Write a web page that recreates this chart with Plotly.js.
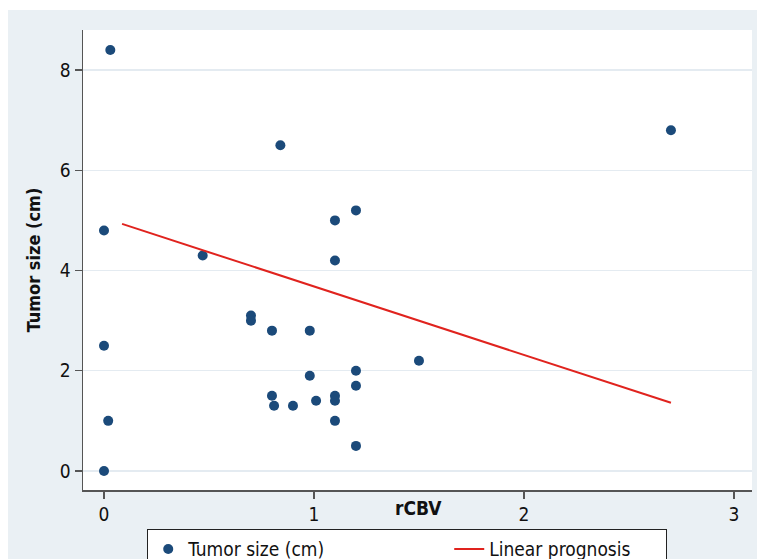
<!DOCTYPE html>
<html><head><meta charset="utf-8">
<script src="https://cdn.plot.ly/plotly-3.0.1.min.js"></script>
<style>
html,body{margin:0;padding:0;background:#ffffff;}
#chart{position:absolute;left:8px;top:10px;width:749px;height:549px;}
</style></head>
<body><div id="chart"></div>
<script>
// Scatter data: rCBV vs tumor size (cm)
const rcbv = [0.03, 0.84, 2.7, 0, 1.1, 1.2, 0.47, 1.1, 0.7, 0.7, 0.8, 0.98, 0, 1.5, 1.2, 0.98, 1.2, 0.8, 0.81, 0.9, 1.01, 1.1, 1.1, 0.02, 1.1, 1.2, 0];
const tumorSize = [8.4, 6.5, 6.8, 4.8, 5.0, 5.2, 4.3, 4.2, 3.1, 3.0, 2.8, 2.8, 2.5, 2.2, 2.0, 1.9, 1.7, 1.5, 1.3, 1.3, 1.4, 1.5, 1.4, 1.0, 1.0, 0.5, 0];
// Linear prognosis (fitted line end points)
const fitX = [0.086, 2.7];
const fitY = [4.93, 1.36];
const xTicks = [0, 1, 2, 3];
const yTicks = [0, 2, 4, 6, 8];
const seriesNames = ["Tumor size (cm)", "Linear prognosis"];
const xTitle = "rCBV";
const yTitle = "Tumor size (cm)";

const FONT = "'Liberation Sans Narrow', 'DejaVu Sans Condensed', 'Arial Narrow', sans-serif";

const traces = [
  {x: rcbv, y: tumorSize, type: 'scatter', mode: 'markers', name: seriesNames[0],
   marker: {color: '#1b4a7a', size: 10}, legendwidth: 256},
  {x: fitX, y: fitY, type: 'scatter', mode: 'lines', name: seriesNames[1],
   line: {color: '#e0231e', width: 2}, legendwidth: 172}
];

const layout = {
  width: 749, height: 549,
  paper_bgcolor: '#eaf0f4', plot_bgcolor: '#ffffff',
  margin: {l: 75, r: 5, t: 20, b: 69, autoexpand: false},
  font: {family: FONT, size: 19, color: '#111'},
  showlegend: true,
  legend: {orientation: 'h', x: 0.096, xanchor: 'left', y: -0.085, yanchor: 'top',
    bordercolor: '#222', borderwidth: 1, bgcolor: '#ffffff',
    font: {family: FONT, size: 19, color: '#111'},
    traceorder: 'normal'},
  xaxis: {range: [-0.1, 3.086], tickvals: xTicks, ticktext: xTicks.map(String),
    showgrid: false, zeroline: false, showline: true, linecolor: '#555', linewidth: 1.5,
    ticks: 'outside', ticklen: 7, tickcolor: '#555', tickwidth: 1.5,
    tickfont: {family: FONT, size: 19, color: '#111'}},
  yaxis: {range: [-0.38, 8.8], tickvals: yTicks, ticktext: yTicks.map(String),
    showgrid: true, gridcolor: '#e4ebf1', gridwidth: 1.5, zeroline: false,
    showline: true, linecolor: '#555', linewidth: 1.5,
    ticks: 'outside', ticklen: 7, tickcolor: '#555', tickwidth: 1.5,
    tickfont: {family: FONT, size: 19, color: '#111'},
    title: {text: '<b>' + yTitle + '</b>', font: {family: FONT, size: 18, color: '#111'}, standoff: 14}},
  annotations: [
    {text: '<b>' + xTitle + '</b>', xref: 'x', x: 1.5, yref: 'paper', y: -0.04,
     xanchor: 'center', yanchor: 'middle', showarrow: false,
     font: {family: FONT, size: 19, color: '#111'}}
  ]
};

Plotly.newPlot('chart', traces, layout, {displayModeBar: false, staticPlot: true});
</script></body></html>
